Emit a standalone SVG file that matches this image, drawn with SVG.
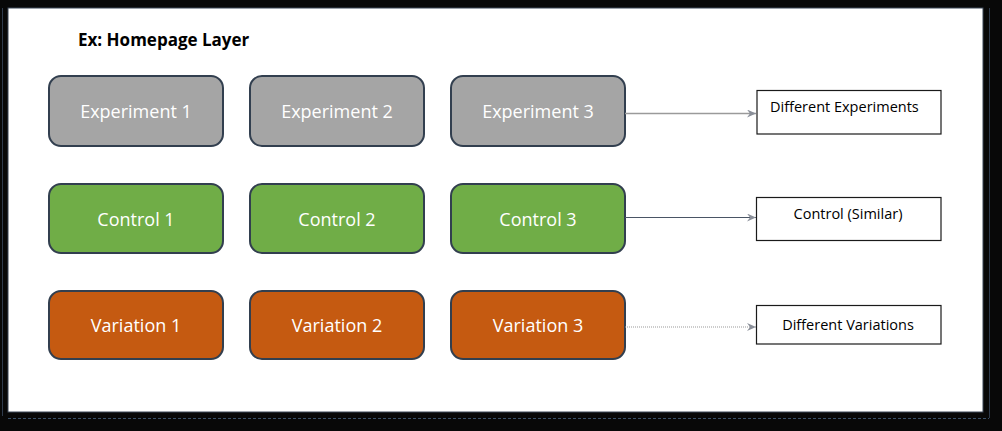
<svg xmlns="http://www.w3.org/2000/svg" width="1002" height="431" viewBox="0 0 1002 431">
<style>
.node{stroke:#323F4F;stroke-width:2}
.g{fill:#A5A5A5}.c{fill:#70AD47}.v{fill:#C55A11}
.nt{font-family:"Open Sans","Liberation Sans",sans-serif;font-size:18px;fill:#FFFFFF;text-anchor:middle}
.lb{fill:#FFFFFF;stroke:#1a1a1a;stroke-width:1.2}
.lt{font-family:"Open Sans","Liberation Sans",sans-serif;font-size:14.5px;fill:#000000}
</style>
<defs>
<marker id="ah" markerWidth="10" markerHeight="8" refX="9" refY="4" orient="auto" markerUnits="userSpaceOnUse">
<path d="M0,0 L9,4 L0,8 L3,4 Z" fill="#8A8F99"/>
</marker>
</defs>
<rect x="0" y="0" width="1002" height="431" fill="#080808"/>
<line x1="2.5" y1="8" x2="2.5" y2="416" stroke="#2F3B4C" stroke-width="1"/>
<line x1="8" y1="418.5" x2="989" y2="418.5" stroke="#3A5068" stroke-width="1" stroke-dasharray="3,2"/>
<line x1="989.5" y1="8" x2="989.5" y2="418" stroke="#2F3B4C" stroke-width="1"/>
<rect x="8" y="8" width="975" height="404" fill="#FFFFFF" stroke="#3A4656" stroke-width="1"/>
<text x="78" y="46" font-family="Open Sans,'Liberation Sans',sans-serif" font-size="17" font-weight="bold" fill="#000">Ex: Homepage Layer</text>
<g id="experiment1"><rect class="node g" x="49" y="76" width="174" height="70" rx="12"/><text class="nt" x="136" y="118">Experiment 1</text></g>
<g id="experiment2"><rect class="node g" x="250" y="76" width="174" height="70" rx="12"/><text class="nt" x="337" y="118">Experiment 2</text></g>
<g id="experiment3"><rect class="node g" x="451" y="76" width="174" height="70" rx="12"/><text class="nt" x="538" y="118">Experiment 3</text></g>
<g id="control1"><rect class="node c" x="49" y="184" width="174" height="69" rx="12"/><text class="nt" x="136" y="226">Control 1</text></g>
<g id="control2"><rect class="node c" x="250" y="184" width="174" height="69" rx="12"/><text class="nt" x="337" y="226">Control 2</text></g>
<g id="control3"><rect class="node c" x="451" y="184" width="174" height="69" rx="12"/><text class="nt" x="538" y="226">Control 3</text></g>
<g id="variation1"><rect class="node v" x="49" y="291" width="174" height="68" rx="12"/><text class="nt" x="136" y="332">Variation 1</text></g>
<g id="variation2"><rect class="node v" x="250" y="291" width="174" height="68" rx="12"/><text class="nt" x="337" y="332">Variation 2</text></g>
<g id="variation3"><rect class="node v" x="451" y="291" width="174" height="68" rx="12"/><text class="nt" x="538" y="332">Variation 3</text></g>
<g id="label-experiments"><rect class="lb" x="757" y="90.5" width="184" height="43.5"/><text class="lt" x="770" y="112">Different Experiments</text></g>
<g id="label-control"><rect class="lb" x="756.5" y="197.5" width="184.5" height="43"/><text class="lt" x="848" y="219" text-anchor="middle">Control (Similar)</text></g>
<g id="label-variations"><rect class="lb" x="756.5" y="305.5" width="184.5" height="38.5"/><text class="lt" x="848" y="330" text-anchor="middle">Different Variations</text></g>
<g id="connectors" fill="none">
<line x1="625" y1="113.5" x2="756" y2="113.5" stroke="#9A9A9A" stroke-width="1.5" marker-end="url(#ah)"/>
<line x1="625" y1="217.5" x2="756" y2="217.5" stroke="#4A5565" stroke-width="1" marker-end="url(#ah)"/>
<line x1="625" y1="327" x2="756" y2="327" stroke="#9A9A9A" stroke-width="1.2" stroke-dasharray="1,1" marker-end="url(#ah)"/>
</g>
</svg>
